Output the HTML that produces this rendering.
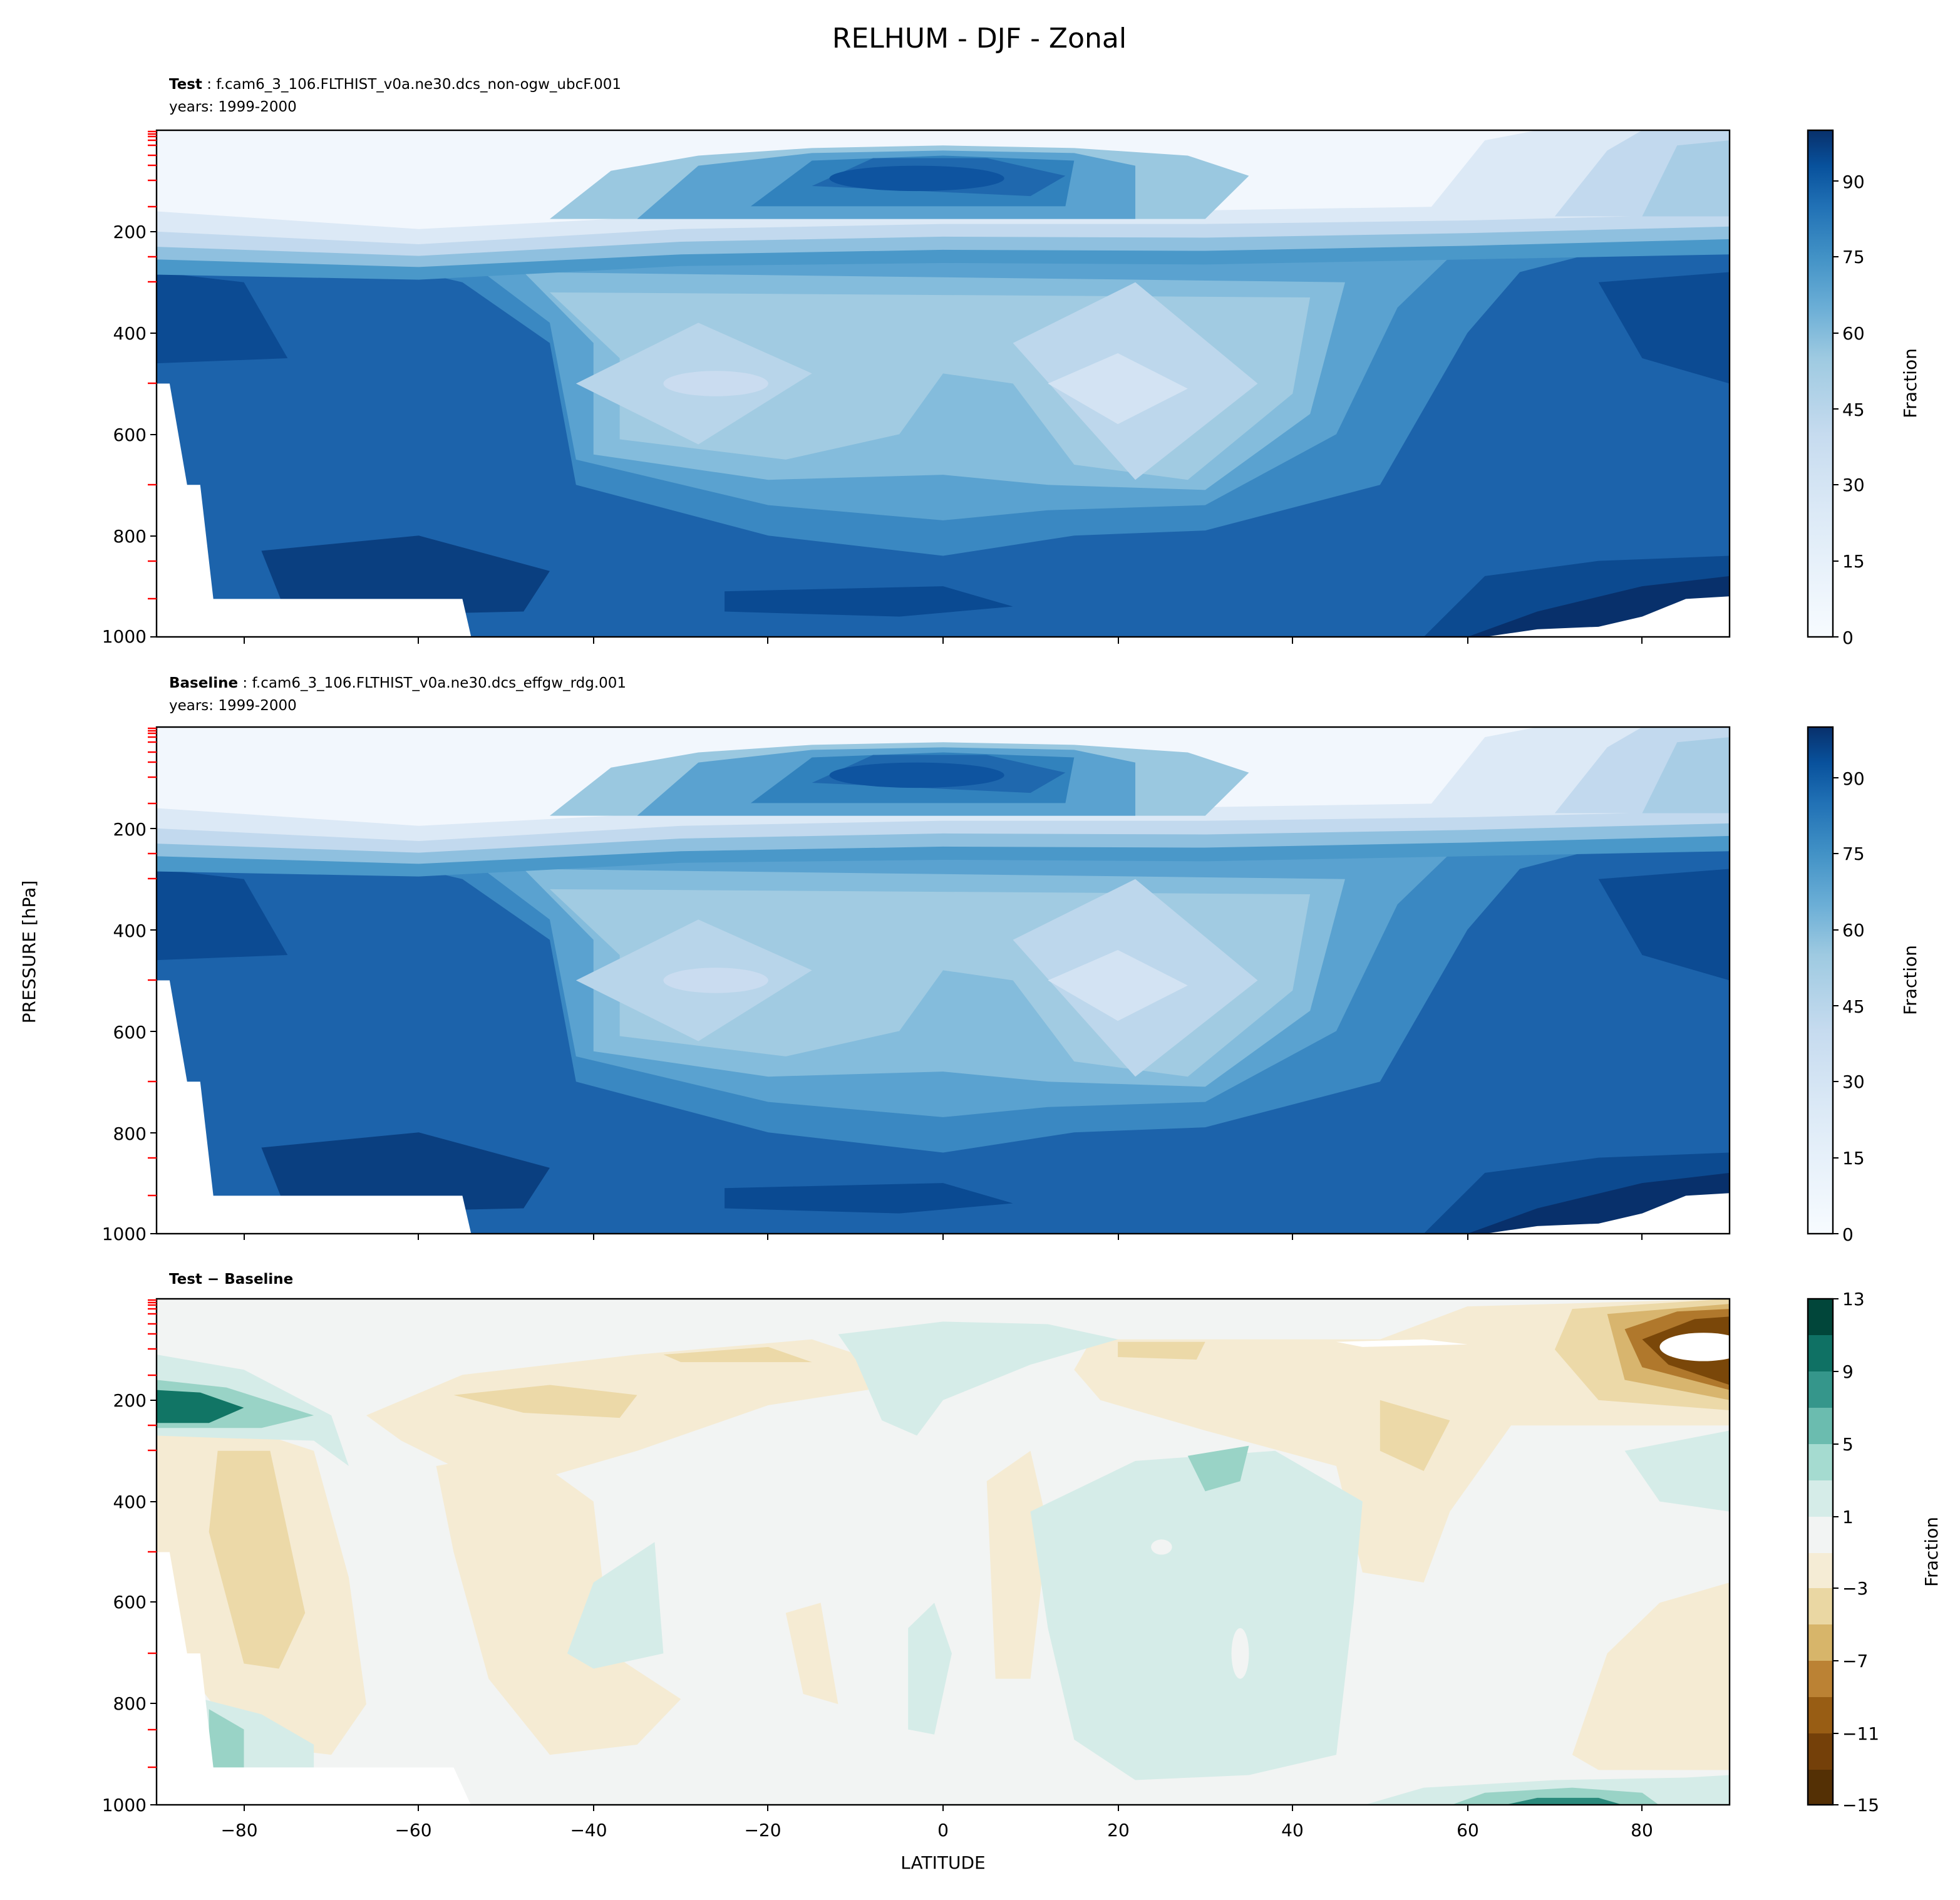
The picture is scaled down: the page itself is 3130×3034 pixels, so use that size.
<!DOCTYPE html>
<html><head><meta charset="utf-8"><style>html,body{margin:0;padding:0;background:#fff}svg{display:block}</style></head>
<body>
<svg xmlns="http://www.w3.org/2000/svg" xmlns:xlink="http://www.w3.org/1999/xlink" width="3130" height="3034" viewBox="0 0 1565 1517" font-family="'DejaVu Sans','Liberation Sans',sans-serif">
<defs>
<clipPath id="cp"><rect x="-90" y="0" width="180" height="1000"/></clipPath>
<g id="rh">
<g clip-path="url(#cp)">
<rect x="-90" y="0" width="180" height="1000" fill="#1c63ab"/>
<polygon points="-90,280 -80,300 -75,450 -90,460" fill="#0c4b93"/>
<polygon points="75,300 90,280 90,500 80,450" fill="#0c4b93"/>
<polygon points="-78,830 -60,800 -45,870 -48,950 -75,960" fill="#0a3f80"/>
<polygon points="-25,910 0,900 8,940 -5,960 -25,950" fill="#0a4a92"/>
<polygon points="55,1000 62,880 75,850 90,840 90,1000" fill="#0c4a90"/>
<polygon points="60,1000 68,950 80,900 90,880 90,1000" fill="#08306b"/>
<polygon points="-70,240 -55,300 -45,420 -42,700 -20,800 0,840 15,800 30,790 50,700 60,400 66,280 75,240" fill="#3a88c2"/>
<polygon points="-55,250 -45,380 -42,650 -20,740 0,770 12,750 30,740 45,600 52,350 58,250" fill="#5aa2d0"/>
<polygon points="-48,280 -40,420 -40,640 -20,690 0,680 12,700 30,710 42,560 46,300" fill="#84bcdc"/>
<polygon points="-45,320 -37,450 -37,610 -18,650 -5,600 0,480 8,500 15,660 28,690 40,520 42,330" fill="#a1cbe2"/>
<polygon points="-42,500 -28,380 -15,480 -28,620" fill="#b8d5ea"/>
<polygon points="8,420 22,300 36,500 22,690" fill="#bdd7ec"/>
<ellipse cx="-26" cy="500" rx="6" ry="25" fill="#cadcf0"/>
<polygon points="12,500 20,440 28,510 20,580" fill="#d3e3f3"/>
<path d="M-90,0 H90 V245 L60,255 L30,265 L0,262 L-30,268 L-60,295 L-90,285 Z" fill="#4a98c9"/>
<path d="M-90,0 H90 V215 L60,228 L30,238 L0,236 L-30,245 L-60,270 L-90,255 Z" fill="#8fc0df"/>
<path d="M-90,0 H90 V190 L60,203 L30,212 L0,210 L-30,220 L-60,248 L-90,230 Z" fill="#c2d9ee"/>
<path d="M-90,0 H90 V165 L60,178 L30,185 L0,185 L-30,195 L-60,225 L-90,200 Z" fill="#dce9f6"/>
<path d="M-90,0 H90 V140 L60,150 L30,158 L0,160 L-30,168 L-60,195 L-90,160 Z" fill="#f2f7fd"/>
<polygon points="-45,175 -38,80 -28,50 -15,35 0,30 15,35 28,50 35,90 30,175" fill="#9ac8e0"/>
<polygon points="-35,175 -28,70 -15,45 0,40 15,45 22,70 22,175" fill="#5aa2d0"/>
<polygon points="-22,150 -15,60 0,50 15,60 14,150" fill="#3182bd"/>
<polygon points="-15,110 -8,55 5,55 14,90 10,130" fill="#1f68ae"/>
<ellipse cx="-3" cy="95" rx="10" ry="25" fill="#0e54a0"/>
<polygon points="55,170 62,20 68,0 90,0 90,170" fill="#dce9f6"/>
<polygon points="70,170 76,40 80,0 90,0 90,170" fill="#c2d9ee"/>
<polygon points="80,170 84,30 90,20 90,170" fill="#a8cde5"/>
<polygon points="-90,1000 -90,500 -88.5,500 -86.5,700 -85,700 -83.5,925 -55,925 -54,1000" fill="#fff"/>
<polygon points="62,1000 68,985 75,980 80,960 85,925 90,920 90,1000" fill="#fff"/>
</g>
</g>
<linearGradient id="gb" x1="0" y1="1" x2="0" y2="0">
<stop offset="0" stop-color="#f7fbff"/><stop offset="0.25" stop-color="#dbe9f6"/><stop offset="0.4" stop-color="#c6dbef"/><stop offset="0.55" stop-color="#9ecae1"/><stop offset="0.65" stop-color="#6baed6"/><stop offset="0.75" stop-color="#4292c6"/><stop offset="0.85" stop-color="#2171b5"/><stop offset="0.93" stop-color="#08519c"/><stop offset="1" stop-color="#08306b"/>
</linearGradient>
<g id="redt" stroke="red" stroke-width="1.2">
<line x1="118" x2="125" y1="105" y2="105"/><line x1="118" x2="125" y1="107" y2="107"/><line x1="118" x2="125" y1="109" y2="109"/><line x1="118" x2="125" y1="112" y2="112"/><line x1="118" x2="125" y1="116" y2="116"/><line x1="118" x2="125" y1="124" y2="124"/><line x1="118" x2="125" y1="132" y2="132"/><line x1="118" x2="125" y1="144" y2="144"/><line x1="118" x2="125" y1="165" y2="165"/><line x1="118" x2="125" y1="205" y2="205"/><line x1="118" x2="125" y1="225" y2="225"/><line x1="118" x2="125" y1="306" y2="306"/><line x1="118" x2="125" y1="387" y2="387"/><line x1="118" x2="125" y1="448" y2="448"/><line x1="118" x2="125" y1="478" y2="478"/>
</g>
</defs>

<text x="782" y="38" font-size="22" text-anchor="middle">RELHUM - DJF - Zonal</text>

<text x="135" y="71" font-size="11.5"><tspan font-weight="bold">Test</tspan> : f.cam6_3_106.FLTHIST_v0a.ne30.dcs_non-ogw_ubcF.001</text>
<text x="135" y="89" font-size="11.5">years: 1999-2000</text>
<use xlink:href="#rh" transform="translate(753,104) scale(6.978,0.4045)"/>
<rect x="125" y="104" width="1256" height="404.5" fill="none" stroke="#000" stroke-width="1.2"/>
<use xlink:href="#redt"/>
<text x="135" y="549" font-size="11.5"><tspan font-weight="bold">Baseline</tspan> : f.cam6_3_106.FLTHIST_v0a.ne30.dcs_effgw_rdg.001</text>
<text x="135" y="567" font-size="11.5">years: 1999-2000</text>
<use xlink:href="#rh" transform="translate(753,580.5) scale(6.978,0.4045)"/>
<rect x="125" y="580.5" width="1256" height="404.5" fill="none" stroke="#000" stroke-width="1.2"/>
<use xlink:href="#redt" transform="translate(0,476.5)"/>

<text x="135" y="1025" font-size="11.5" font-weight="bold">Test − Baseline</text>
<g transform="translate(753,1037) scale(6.978,0.4045)">
<g clip-path="url(#cp)">
<rect x="-90" y="0" width="180" height="1000" fill="#f2f4f3"/>
<polygon points="-90,270 -80,255 -72,300 -68,550 -66,800 -70,900 -80,880 -88,700 -90,500" fill="#f5ebd3"/>
<polygon points="-66,230 -55,150 -35,110 -15,80 -8,120 -5,170 -20,210 -35,300 -45,350 -55,340 -62,280" fill="#f5ebd3"/>
<polygon points="-48,300 -40,400 -38,700 -30,790 -35,880 -45,900 -52,750 -56,500 -58,330" fill="#f5ebd3"/>
<polygon points="-18,620 -14,600 -12,800 -16,780" fill="#f5ebd3"/>
<polygon points="5,360 10,300 12,450 10,750 6,750" fill="#f5ebd3"/>
<polygon points="17,80 50,80 60,15 90,0 90,250 65,250 58,420 55,560 48,540 45,330 30,260 18,200 15,140" fill="#f5ebd3"/>
<polygon points="72,900 76,700 82,600 90,560 90,930 75,930" fill="#f5ebd3"/>
<polygon points="-83,300 -77,300 -73,620 -76,730 -80,720 -84,460" fill="#ecd9a8"/>
<polygon points="-56,190 -45,170 -35,190 -37,235 -48,225" fill="#ecd9a8"/>
<polygon points="-32,110 -20,95 -15,125 -30,125" fill="#ecd9a8"/>
<polygon points="20,85 30,85 29,120 20,115" fill="#ecd9a8"/>
<polygon points="50,200 58,240 55,340 50,300" fill="#ecd9a8"/>
<polygon points="72,20 90,0 90,220 75,200 70,100" fill="#ecd9a8"/>
<polygon points="76,30 90,10 90,200 78,160" fill="#d8b56e"/>
<polygon points="78,60 84,25 90,20 90,180 80,135" fill="#b0782c"/>
<polygon points="80,80 86,40 90,35 90,170 83,130" fill="#7a4709"/>
<ellipse cx="87" cy="95" rx="5" ry="28" fill="#fff"/>
<polygon points="45,85 55,80 60,90 48,95" fill="#fff"/>
<polygon points="-12,70 0,45 12,50 20,80 10,130 0,200 -3,270 -7,240 -10,120" fill="#d5ece8"/>
<polygon points="10,420 22,320 38,300 48,400 47,600 45,900 35,940 22,950 15,870 12,650" fill="#d5ece8"/>
<polygon points="-43,700 -40,560 -33,480 -32,700 -40,730" fill="#d5ece8"/>
<polygon points="-4,850 -4,650 -1,600 1,700 -1,860" fill="#d5ece8"/>
<polygon points="48,1000 55,965 70,950 85,945 90,940 90,1000" fill="#d5ece8"/>
<polygon points="-87,780 -78,820 -72,880 -72,925 -87,925" fill="#d5ece8"/>
<polygon points="-90,110 -80,140 -70,230 -68,330 -72,280 -82,275 -90,270" fill="#d5ece8"/>
<polygon points="78,300 90,260 90,420 82,400" fill="#d5ece8"/>
<ellipse cx="25" cy="490" rx="1.2" ry="15" fill="#f2f4f3"/>
<ellipse cx="34" cy="700" rx="1" ry="50" fill="#f2f4f3"/>
<polygon points="-90,160 -82,175 -72,230 -78,255 -90,255" fill="#99d3c6"/>
<polygon points="28,310 35,290 34,360 30,380" fill="#99d3c6"/>
<polygon points="-84,810 -80,850 -80,925 -84,925" fill="#99d3c6"/>
<polygon points="58,1000 62,975 72,965 80,975 82,1000" fill="#99d3c6"/>
<polygon points="-90,180 -85,185 -80,215 -84,245 -90,245" fill="#117565"/>
<polygon points="64,1000 68,985 75,985 78,1000" fill="#2a8a7c"/>
<polygon points="-90,1000 -90,500 -88.5,500 -86.5,700 -85,700 -83.5,925 -56,925 -54,1000" fill="#fff"/>
</g>
</g>
<rect x="125" y="1037" width="1256" height="404" fill="none" stroke="#000" stroke-width="1.2"/>
<use xlink:href="#redt" transform="translate(0,933)"/>

<g font-size="14" text-anchor="end" stroke="none">
<g stroke="#000"><line x1="120" x2="125" y1="185" y2="185"/><line x1="120" x2="125" y1="266" y2="266"/><line x1="120" x2="125" y1="347" y2="347"/><line x1="120" x2="125" y1="428" y2="428"/><line x1="120" x2="125" y1="508.5" y2="508.5"/></g>
<text x="117" y="190">200</text><text x="117" y="271">400</text><text x="117" y="352">600</text><text x="117" y="433">800</text><text x="117" y="513">1000</text>
<g stroke="#000"><line x1="120" x2="125" y1="661.5" y2="661.5"/><line x1="120" x2="125" y1="742.5" y2="742.5"/><line x1="120" x2="125" y1="823.5" y2="823.5"/><line x1="120" x2="125" y1="904.5" y2="904.5"/><line x1="120" x2="125" y1="985" y2="985"/></g>
<text x="117" y="667">200</text><text x="117" y="748">400</text><text x="117" y="829">600</text><text x="117" y="910">800</text><text x="117" y="990">1000</text>
<g stroke="#000"><line x1="120" x2="125" y1="1118" y2="1118"/><line x1="120" x2="125" y1="1199" y2="1199"/><line x1="120" x2="125" y1="1279" y2="1279"/><line x1="120" x2="125" y1="1360" y2="1360"/><line x1="120" x2="125" y1="1441" y2="1441"/></g>
<text x="117" y="1123">200</text><text x="117" y="1204">400</text><text x="117" y="1284">600</text><text x="117" y="1365">800</text><text x="117" y="1446">1000</text>
</g>
<text transform="translate(28,760) rotate(-90)" font-size="14" text-anchor="middle">PRESSURE [hPa]</text>

<g stroke="#000">
<line x1="195" x2="195" y1="508.5" y2="514"/><line x1="334" x2="334" y1="508.5" y2="514"/><line x1="474" x2="474" y1="508.5" y2="514"/><line x1="613" x2="613" y1="508.5" y2="514"/><line x1="753" x2="753" y1="508.5" y2="514"/><line x1="893" x2="893" y1="508.5" y2="514"/><line x1="1032" x2="1032" y1="508.5" y2="514"/><line x1="1172" x2="1172" y1="508.5" y2="514"/><line x1="1311" x2="1311" y1="508.5" y2="514"/>
<line x1="195" x2="195" y1="985" y2="990"/><line x1="334" x2="334" y1="985" y2="990"/><line x1="474" x2="474" y1="985" y2="990"/><line x1="613" x2="613" y1="985" y2="990"/><line x1="753" x2="753" y1="985" y2="990"/><line x1="893" x2="893" y1="985" y2="990"/><line x1="1032" x2="1032" y1="985" y2="990"/><line x1="1172" x2="1172" y1="985" y2="990"/><line x1="1311" x2="1311" y1="985" y2="990"/>
<line x1="195" x2="195" y1="1441" y2="1446"/><line x1="334" x2="334" y1="1441" y2="1446"/><line x1="474" x2="474" y1="1441" y2="1446"/><line x1="613" x2="613" y1="1441" y2="1446"/><line x1="753" x2="753" y1="1441" y2="1446"/><line x1="893" x2="893" y1="1441" y2="1446"/><line x1="1032" x2="1032" y1="1441" y2="1446"/><line x1="1172" x2="1172" y1="1441" y2="1446"/><line x1="1311" x2="1311" y1="1441" y2="1446"/>
</g>
<g font-size="14" text-anchor="middle">
<text x="191" y="1466">−80</text><text x="330" y="1466">−60</text><text x="470" y="1466">−40</text><text x="609" y="1466">−20</text><text x="753" y="1466">0</text><text x="893" y="1466">20</text><text x="1032" y="1466">40</text><text x="1172" y="1466">60</text><text x="1311" y="1466">80</text>
</g>
<text x="753" y="1492" font-size="14" text-anchor="middle">LATITUDE</text>

<g id="cb1">
<rect x="1443.5" y="104" width="20" height="404.5" fill="url(#gb)"/>
<rect x="1443.5" y="104" width="20" height="404.5" fill="none" stroke="#000" stroke-width="1.2"/>
<g stroke="#000"><line x1="1463.5" x2="1468" y1="508.5" y2="508.5"/><line x1="1463.5" x2="1468" y1="448" y2="448"/><line x1="1463.5" x2="1468" y1="387" y2="387"/><line x1="1463.5" x2="1468" y1="326.5" y2="326.5"/><line x1="1463.5" x2="1468" y1="266" y2="266"/><line x1="1463.5" x2="1468" y1="205" y2="205"/><line x1="1463.5" x2="1468" y1="144.5" y2="144.5"/></g>
<g font-size="14"><text x="1471" y="514">0</text><text x="1471" y="453">15</text><text x="1471" y="392">30</text><text x="1471" y="332">45</text><text x="1471" y="271">60</text><text x="1471" y="210">75</text><text x="1471" y="150">90</text></g>
<text transform="translate(1530,306) rotate(-90)" font-size="14" text-anchor="middle">Fraction</text>
</g>
<use xlink:href="#cb1" transform="translate(0,476.5)"/>

<g>
<rect x="1443.5" y="1037" width="20" height="29" fill="#01463a"/>
<rect x="1443.5" y="1066" width="20" height="29" fill="#0f7164"/>
<rect x="1443.5" y="1095" width="20" height="29" fill="#35968b"/>
<rect x="1443.5" y="1124" width="20" height="29" fill="#6bbcaf"/>
<rect x="1443.5" y="1153" width="20" height="29" fill="#a5dbd0"/>
<rect x="1443.5" y="1182" width="20" height="29" fill="#d5ece8"/>
<rect x="1443.5" y="1211" width="20" height="29" fill="#f2f4f3"/>
<rect x="1443.5" y="1240" width="20" height="29" fill="#f5ecd5"/>
<rect x="1443.5" y="1268" width="20" height="29" fill="#ead7a3"/>
<rect x="1443.5" y="1297" width="20" height="29" fill="#d7b56a"/>
<rect x="1443.5" y="1326" width="20" height="29" fill="#bb8234"/>
<rect x="1443.5" y="1355" width="20" height="29" fill="#985d14"/>
<rect x="1443.5" y="1384" width="20" height="29" fill="#744009"/>
<rect x="1443.5" y="1413" width="20" height="28" fill="#543005"/>
<rect x="1443.5" y="1037" width="20" height="404" fill="none" stroke="#000" stroke-width="1.2"/>
<g stroke="#000"><line x1="1463.5" x2="1468" y1="1441" y2="1441"/><line x1="1463.5" x2="1468" y1="1384" y2="1384"/><line x1="1463.5" x2="1468" y1="1326" y2="1326"/><line x1="1463.5" x2="1468" y1="1268" y2="1268"/><line x1="1463.5" x2="1468" y1="1211" y2="1211"/><line x1="1463.5" x2="1468" y1="1153" y2="1153"/><line x1="1463.5" x2="1468" y1="1095" y2="1095"/><line x1="1463.5" x2="1468" y1="1037" y2="1037"/></g>
<g font-size="14"><text x="1471" y="1446">−15</text><text x="1471" y="1389">−11</text><text x="1471" y="1331">−7</text><text x="1471" y="1273">−3</text><text x="1471" y="1216">1</text><text x="1471" y="1158">5</text><text x="1471" y="1100">9</text><text x="1471" y="1042">13</text></g>
<text transform="translate(1547,1239) rotate(-90)" font-size="14" text-anchor="middle">Fraction</text>
</g>
</svg>
</body></html>
